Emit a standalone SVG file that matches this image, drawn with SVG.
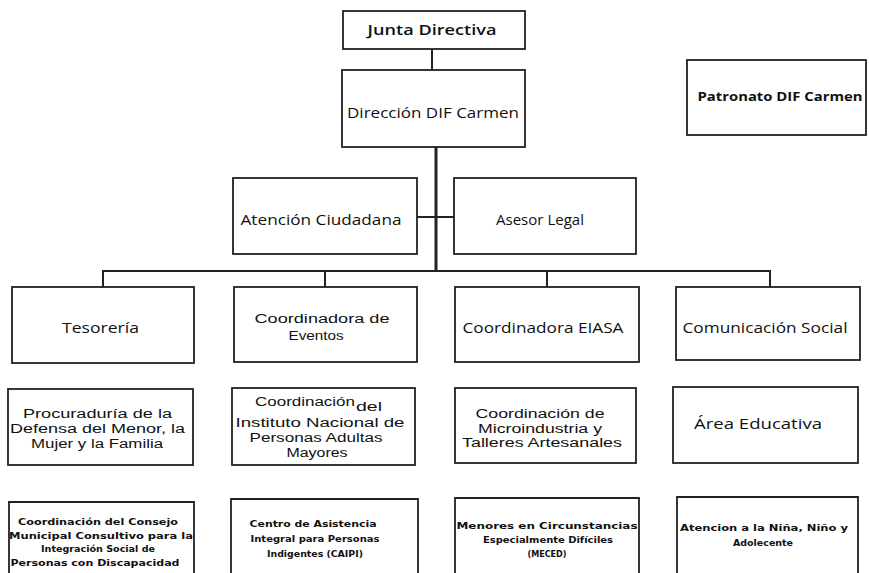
<svg xmlns="http://www.w3.org/2000/svg" width="869" height="573" viewBox="0 0 869 573">
<style>
.box{fill:#fff;stroke:#222;stroke-width:1.8}
.t{font-family:"Open Sans","DejaVu Sans",sans-serif;font-size:14px;fill:#111;text-anchor:middle}
.m{font-family:"Liberation Sans",Arial,sans-serif;font-size:12.5px;fill:#111;text-anchor:middle}
.tb{font-family:"Open Sans","DejaVu Sans",sans-serif;font-size:13px;font-weight:bold;fill:#111;text-anchor:middle}
.s{font-family:"DejaVu Sans","Liberation Sans",sans-serif;font-size:8.8px;font-weight:bold;fill:#111;text-anchor:middle}
.c{fill:none;stroke:#222;stroke-width:2}
</style>
<rect width="869" height="573" fill="#fff"/>
<g id="connectors">
<line class="c" x1="432" y1="49" x2="432" y2="70"/>
<line class="c" x1="436" y1="147" x2="436" y2="271" style="stroke-width:3"/>
<line class="c" x1="417" y1="217" x2="454" y2="217"/>
<polyline class="c" points="103,287 103,271 770,271 770,287"/>
<line class="c" x1="325" y1="271" x2="325" y2="287"/>
<line class="c" x1="547" y1="271" x2="547" y2="287"/>
</g>
<g id="junta"><rect class="box" x="343" y="11" width="182" height="38"/><text class="t" x="432" y="35" font-weight="600" textLength="129" lengthAdjust="spacingAndGlyphs">Junta Directiva</text></g>
<g id="direccion"><rect class="box" x="342" y="70" width="183" height="77"/><text class="t" x="433" y="118" textLength="172" lengthAdjust="spacingAndGlyphs">Dirección DIF Carmen</text></g>
<g id="patronato"><rect class="box" x="687" y="60" width="179" height="75"/><text class="tb" x="780" y="101" textLength="165" lengthAdjust="spacingAndGlyphs">Patronato DIF Carmen</text></g>
<g id="atencion"><rect class="box" x="233" y="178" width="184" height="76"/><text class="t" x="321" y="225" textLength="161" lengthAdjust="spacingAndGlyphs">Atención Ciudadana</text></g>
<g id="asesor"><rect class="box" x="454" y="178" width="182" height="76"/><text class="t" x="540" y="225" textLength="88" lengthAdjust="spacingAndGlyphs">Asesor Legal</text></g>
<g id="tesoreria"><rect class="box" x="12" y="287" width="182" height="76"/><text class="t" x="100.5" y="333" textLength="77" lengthAdjust="spacingAndGlyphs">Tesorería</text></g>
<g id="eventos"><rect class="box" x="234" y="287" width="183" height="75"/><text class="m" x="322" y="323" textLength="135" lengthAdjust="spacingAndGlyphs">Coordinadora de</text><text class="m" x="316" y="340" textLength="55" lengthAdjust="spacingAndGlyphs">Eventos</text></g>
<g id="eiasa"><rect class="box" x="455" y="287" width="184" height="75"/><text class="t" x="543" y="333" textLength="161" lengthAdjust="spacingAndGlyphs">Coordinadora EIASA</text></g>
<g id="comunicacion"><rect class="box" x="676" y="287" width="184" height="73"/><text class="t" x="765" y="333" textLength="165" lengthAdjust="spacingAndGlyphs">Comunicación Social</text></g>
<g id="procuraduria"><rect class="box" x="8" y="389" width="185" height="76"/><text class="m" x="97.5" y="418" textLength="149" lengthAdjust="spacingAndGlyphs">Procuraduría de la</text><text class="m" x="97.5" y="433" textLength="175" lengthAdjust="spacingAndGlyphs">Defensa del Menor, la</text><text class="m" x="97" y="448" textLength="132" lengthAdjust="spacingAndGlyphs">Mujer y la Familia</text></g>
<g id="inapam"><rect class="box" x="232" y="388" width="183" height="77"/><text class="m" x="305" y="406" textLength="100" lengthAdjust="spacingAndGlyphs">Coordinación</text><text class="m" x="369" y="411" textLength="26" lengthAdjust="spacingAndGlyphs">del</text><text class="m" x="320" y="427" textLength="169" lengthAdjust="spacingAndGlyphs">Instituto Nacional de</text><text class="m" x="316" y="442" textLength="133" lengthAdjust="spacingAndGlyphs">Personas Adultas</text><text class="m" x="317" y="457" textLength="61" lengthAdjust="spacingAndGlyphs">Mayores</text></g>
<g id="microindustria"><rect class="box" x="455" y="388" width="181" height="75"/><text class="m" x="540" y="418" textLength="129" lengthAdjust="spacingAndGlyphs">Coordinación de</text><text class="m" x="540" y="433" textLength="124" lengthAdjust="spacingAndGlyphs">Microindustria y</text><text class="m" x="542" y="447" textLength="160" lengthAdjust="spacingAndGlyphs">Talleres Artesanales</text></g>
<g id="educativa"><rect class="box" x="673" y="387" width="185" height="76"/><text class="t" x="758" y="429" textLength="128" lengthAdjust="spacingAndGlyphs">Área Educativa</text></g>
<g id="consejo"><path class="box" d="M9,575 V502 H194 V575"/><text class="s" x="98" y="525" textLength="160" lengthAdjust="spacingAndGlyphs">Coordinación del Consejo</text><text class="s" x="101" y="539" textLength="184" lengthAdjust="spacingAndGlyphs">Municipal Consultivo para la</text><text class="s" x="98" y="552" textLength="114" lengthAdjust="spacingAndGlyphs">Integración Social de</text><text class="s" x="95" y="566" textLength="169" lengthAdjust="spacingAndGlyphs">Personas con Discapacidad</text></g>
<g id="caipi"><path class="box" d="M231,575 V499 H418 V575"/><text class="s" x="313" y="527" textLength="127" lengthAdjust="spacingAndGlyphs">Centro de Asistencia</text><text class="s" x="315" y="542" textLength="129" lengthAdjust="spacingAndGlyphs">Integral para Personas</text><text class="s" x="315" y="557" textLength="96" lengthAdjust="spacingAndGlyphs">Indigentes (CAIPI)</text></g>
<g id="meced"><path class="box" d="M455,575 V498 H639 V575"/><text class="s" x="547" y="529" textLength="181" lengthAdjust="spacingAndGlyphs">Menores  en Circunstancias</text><text class="s" x="548" y="543" textLength="130" lengthAdjust="spacingAndGlyphs">Especialmente  Difíciles</text><text class="s" x="547" y="557" textLength="39" lengthAdjust="spacingAndGlyphs">(MECED)</text></g>
<g id="adolecente"><path class="box" d="M677,575 V497 H858 V575"/><text class="s" x="764" y="531" textLength="168" lengthAdjust="spacingAndGlyphs">Atencion a la Niña, Niño y</text><text class="s" x="763" y="546" textLength="60" lengthAdjust="spacingAndGlyphs">Adolecente</text></g>
</svg>
